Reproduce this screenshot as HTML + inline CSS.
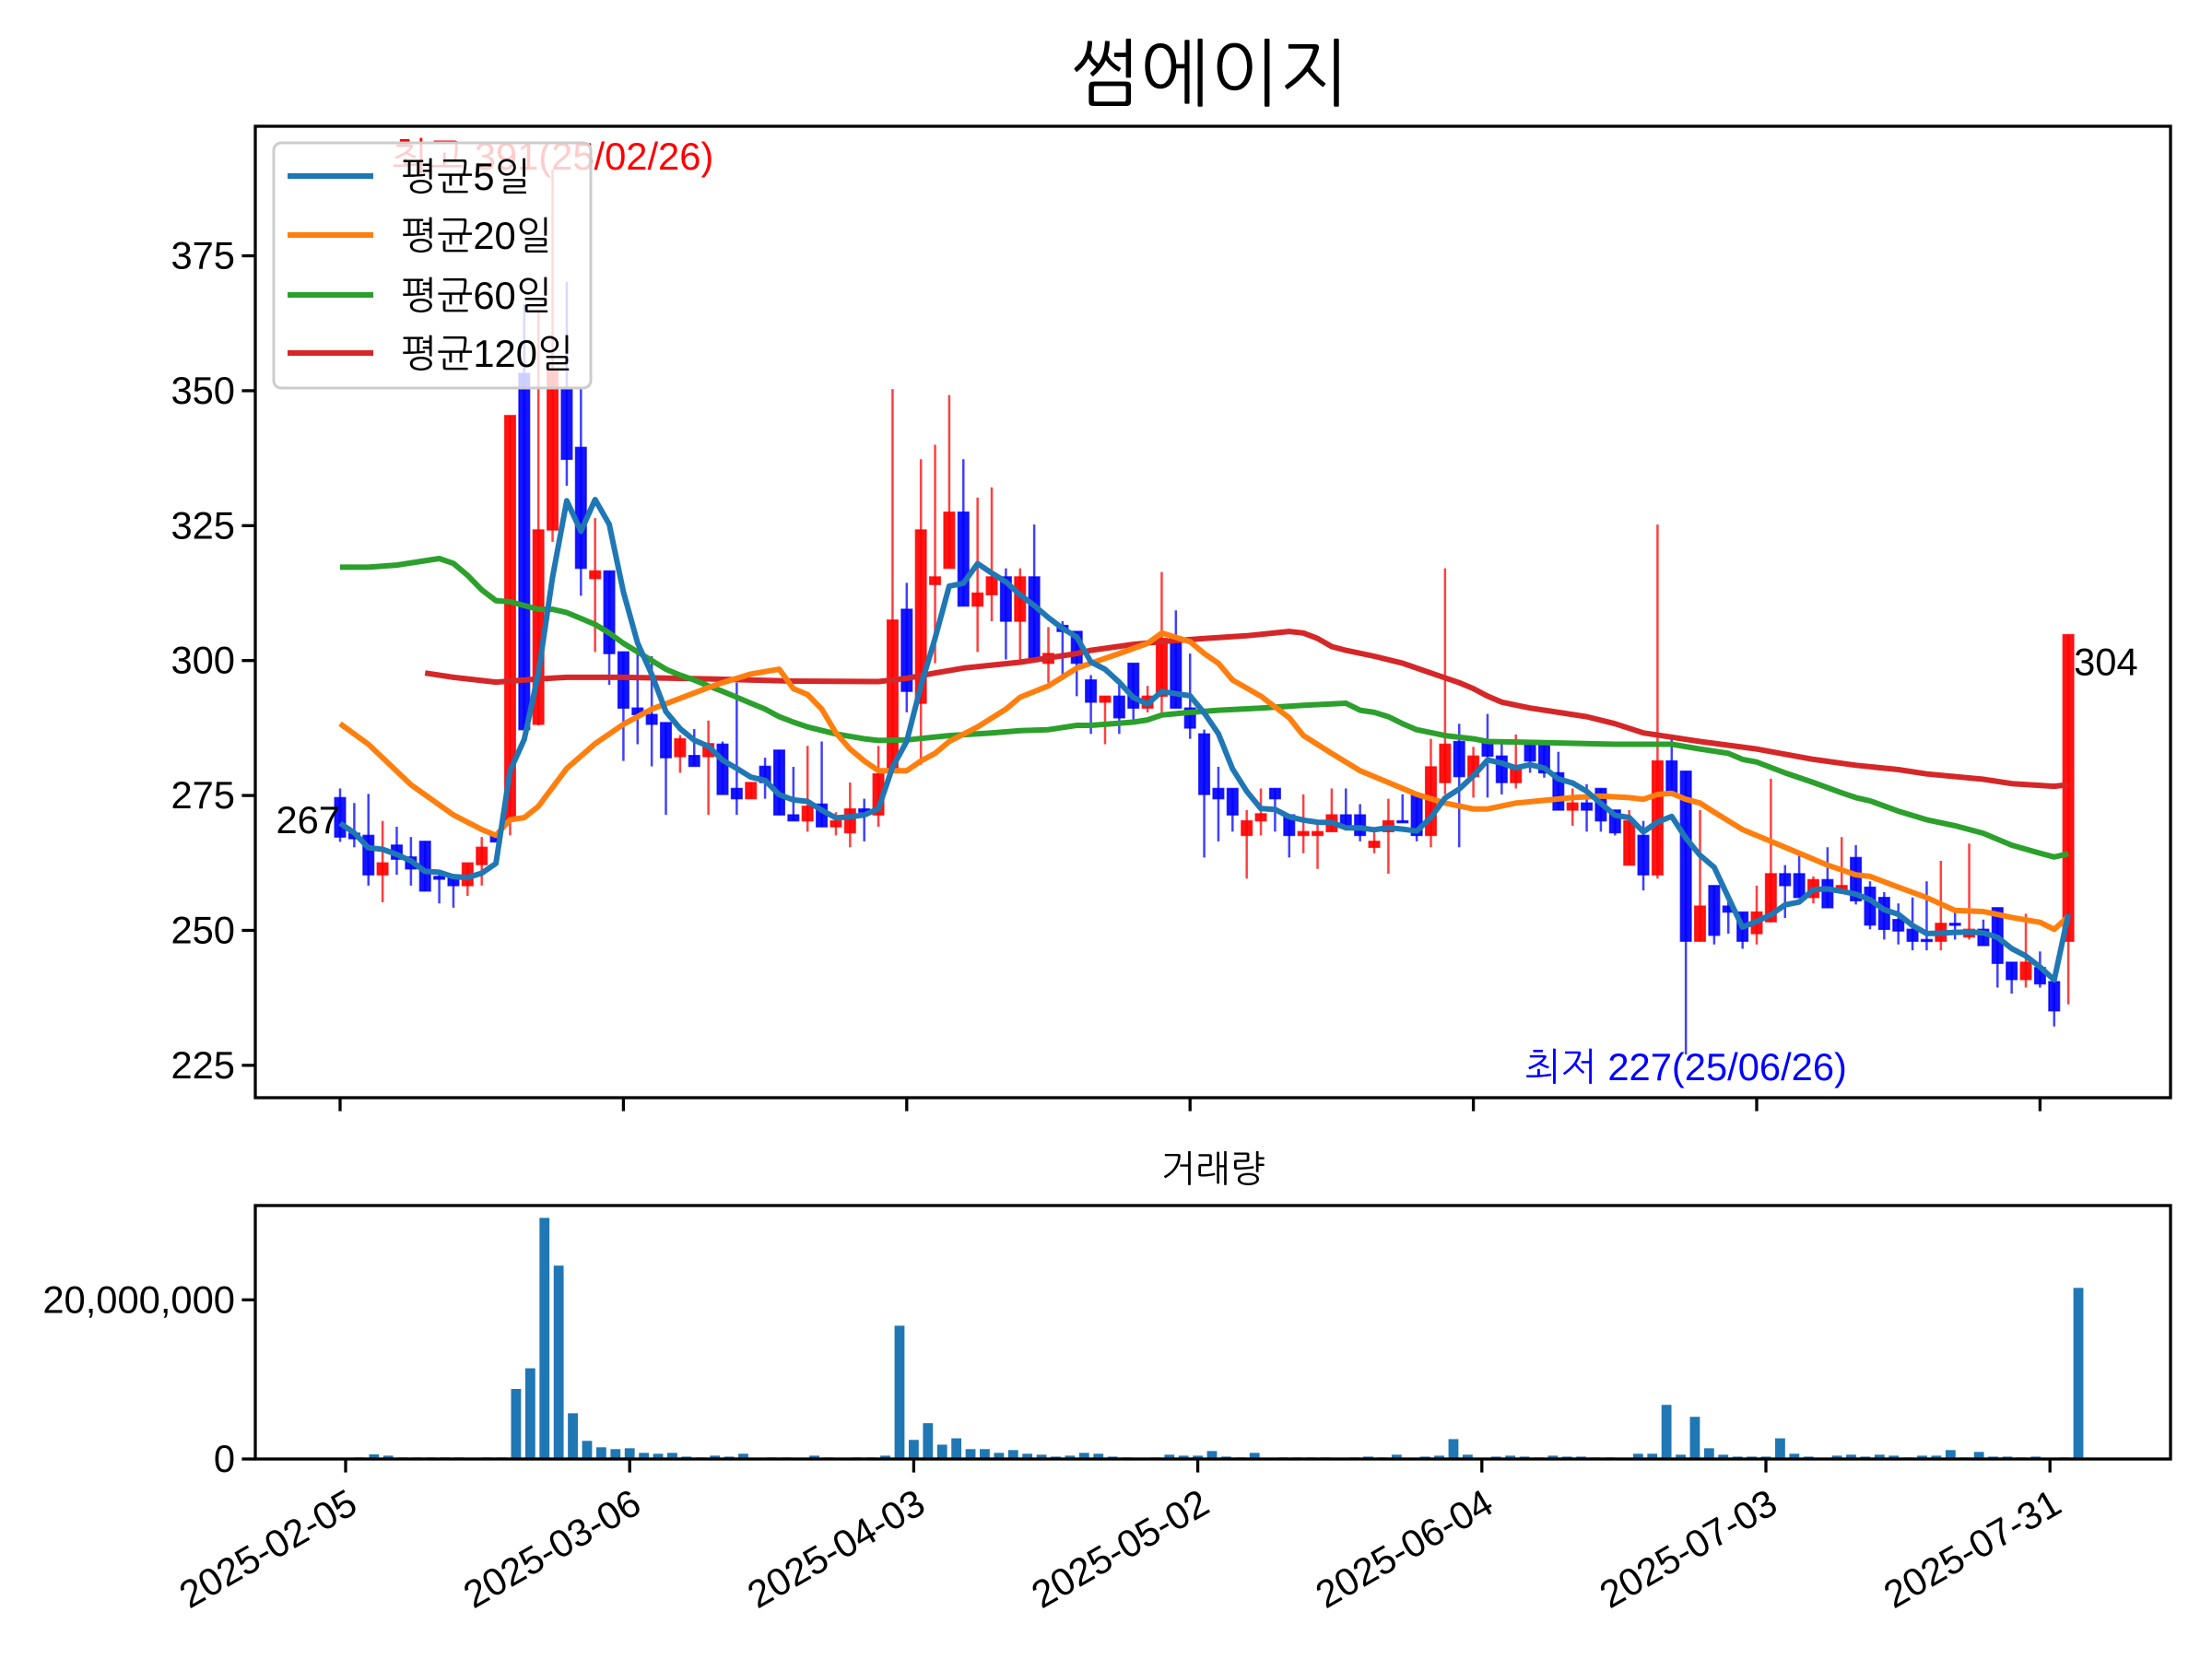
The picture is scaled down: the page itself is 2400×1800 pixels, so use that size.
<!DOCTYPE html>
<html><head><meta charset="utf-8"><title>썸에이지</title>
<style>
html,body{margin:0;padding:0;background:#fff;}
svg{display:block;font-family:"Liberation Sans","NanumGothic","Noto Sans CJK KR",sans-serif;}
</style></head>
<body>
<svg id="chart" xmlns="http://www.w3.org/2000/svg" width="2400" height="1800" viewBox="0 0 2400 1800">
<rect x="0" y="0" width="2400" height="1800" fill="#fff"/>
<text x="1313" y="108" font-size="80" text-anchor="middle" fill="#000" style="font-family:'Liberation Sans','NanumGothic','Noto Sans CJK KR',sans-serif">썸에이지</text>
<g id="price-panel"></g>
<g id="volume-panel"></g>
<text x="1316" y="1282" font-size="40" text-anchor="middle" fill="#000">거래량</text>
</svg>
<script>
const dateLabels = ["2025-02-05","2025-03-06","2025-04-03","2025-05-02","2025-06-04","2025-07-03","2025-07-31"];
const dateTickIdx = [0,20,40,60,80,100,120];
const priceTicks = [225,250,275,300,325,350,375];
const volTicks = [0,20000000];
const volTickLabels = ["0","20,000,000"];
const preCloses = [276,274,264,268];
const opens = [274.6,268,267.6,260.3,265.8,263.6,266.5,260,260.3,258.3,262.2,267.6,270.3,353.2,288.2,324.2,350.4,339.5,315.2,316.6,301.6,291.2,290,288.5,282.2,282.4,282.2,284.5,276.3,274.4,280.4,283.4,271.4,270.3,273.4,269.2,268.1,272.5,271.4,280.1,309.5,292.1,314.1,317.1,327.5,310.1,312.2,315.5,307.3,315.5,299.5,306.5,305.4,296.4,292.3,293.4,299.5,291.2,293.4,303.2,291.2,286.4,276.3,276.3,267.6,270.3,276.3,271.4,267.6,267.6,268.3,271.4,271.4,265.4,268.3,270.3,275.2,267.6,277.4,285,278.5,285,282.3,277.4,284.5,284.5,279.2,272.3,273.6,276.3,272.3,262.1,267.6,260.3,281.4,279.5,248,258.3,254.5,253.4,249.4,251.6,260.5,260.5,256.1,259.4,257.2,263.5,258,256.1,252,250.2,248.3,248,251.3,248.8,250.2,254.2,244.1,240.9,243.1,240.5,248];
const highs = [276.3,273.6,275.3,270.3,269.2,267.3,266.5,260.5,260.5,262.5,267.3,267.6,345.4,366,365,391,370.2,350.4,326.4,316.6,301.6,301.6,300.8,288.5,286.2,287.3,288.9,285,295.9,277.4,282,283.4,280.3,284.2,285,271.9,277.4,274.4,284.2,350.3,314.4,337.3,340,349.2,337.3,330.2,332.1,317.1,317.1,325.2,306.2,307.3,305.4,297.3,293.4,296,299.5,295.3,316.4,309.3,301.3,287.2,280.3,276.3,272.3,276.3,276.3,271.4,275.2,270.3,276.3,276.3,273.4,268.3,274.4,275.2,275.2,285.5,317.1,288.3,284,290.1,284.5,286.3,284.5,284.5,283.1,276.3,277.1,276.3,272.3,272.3,270.3,325.2,286.3,279.5,272.3,258.3,256.1,253.4,258.3,278.1,262.1,263.8,260,265.4,267.3,265.8,259.1,257.1,255,256.1,259.1,262.9,253.9,266.1,252,254.2,244.1,253.1,246.1,240.5,304.8];
const lows = [266.4,265.4,258.3,255.2,260.3,258.3,257.3,255,254.2,256.4,258.3,266.4,267.6,287.2,288,322,332.4,312,301.6,295.5,281.4,284.5,280.4,271.4,279.2,280.4,271.4,275.2,271.4,274.4,274.4,271.4,270.3,268.3,269.2,267.6,265.4,266.5,269.2,280.1,290.4,280.7,299.5,317.1,310.1,301.6,307.3,300.2,300.2,300.2,295.9,296.4,293.4,286.4,284.5,286.4,288.6,290.4,290.4,291.2,285.5,263.5,266.5,268.3,259.6,267.6,268.3,263.5,264.3,261.4,268.3,269.4,266.5,264.3,260.5,270,266.5,265.4,275.2,265.4,274.6,274.6,275.2,276.3,279.2,278.3,272.3,269.4,268.3,268.3,267.6,262.1,257.4,259.6,275.5,227,248,247.4,249.4,246.6,247.4,251.6,252.3,256.1,255,254.2,257.2,254.8,250.2,248.3,247.4,246.3,246.3,246.3,248.3,248.3,247.2,239.4,238.3,239.4,239.4,232.2,236.3];
const closes = [267.3,267,260.3,262.5,263.2,261.4,257.3,259.5,258.3,262.5,265.4,266.4,345.4,287.2,324.2,354,337.3,317.1,316.6,301.3,291.2,290,288.2,282,285.5,280.4,284.6,275.2,274.4,277.4,277.4,271.4,270.3,273,269.2,270.3,272.5,271.9,279,307.5,294.3,324.2,315.5,327.5,310.1,312.5,315.5,307.3,315.5,300.2,301.3,305.4,299.5,292.3,293.4,289.4,291.2,293.4,304.1,291.2,287.5,275.2,274.4,271.4,270.3,271.6,274.4,267.6,268.3,268.3,271.4,269.4,267.6,266.5,270.3,270,267.6,280.3,284.5,278.5,282.3,282.3,277.4,280.1,281.4,279.2,272.3,273.6,272.3,270.3,268.1,270.3,260.3,281.4,275.5,248,254.5,249.1,253.4,248,253.4,260.5,258.3,256.1,259.4,254.2,258.3,255.5,251,250.2,249.9,248,248,251.3,251,250.2,247.2,243.9,240.9,244.1,240.1,235.1,304.8];
const volumes = [0.05,0.2,0.58,0.42,0.2,0.2,0.2,0.2,0.2,0.05,0.2,0.2,8.8,11.4,30.3,24.3,5.75,2.28,1.47,1.24,1.35,0.77,0.66,0.77,0.3,0.2,0.42,0.3,0.66,0.05,0.2,0.2,0.05,0.42,0.2,0.05,0.2,0.2,0.42,16.75,2.4,4.5,1.8,2.6,1.24,1.24,0.77,1.12,0.66,0.54,0.3,0.42,0.77,0.66,0.3,0.2,0.05,0.2,0.54,0.42,0.42,1.0,0.3,0.2,0.77,0.05,0.2,0.2,0.2,0.2,0.05,0.2,0.3,0.2,0.54,0.05,0.3,0.42,2.5,0.54,0.05,0.3,0.42,0.3,0.2,0.42,0.3,0.3,0.2,0.2,0.05,0.66,0.66,6.8,0.54,5.3,1.35,0.54,0.3,0.3,0.3,2.6,0.66,0.3,0.05,0.42,0.54,0.3,0.54,0.42,0.2,0.42,0.42,1.12,0.2,0.89,0.3,0.3,0.2,0.3,0.05,0.2,21.5];
const ma20Idx = [0,2,5,8,10,11,12,13,14,16,18,20,22,24,26,27,29,31,32,33,34,35,36,37,38,40,41,42,43,45,47,48,50,52,53,55,57,58,60,61,62,63,65,67,68,70,72,74,76,78,80,81,83,85,87,89,91,92,93,94,95,96,97,99,101,103,105,107,108,110,112,114,116,118,120,121,122];
const ma20Val = [288.3,284.5,277,271.4,268.7,267.6,270.5,270.9,273,280,284.6,288.2,291,293,295,295.9,297.5,298.4,294.8,293.7,291,286.6,283.6,281.4,279.6,279.6,281.4,282.8,285,287.7,291,293.2,295.3,298.6,299.5,301.3,303.2,305.1,303.5,301.3,299.5,296.4,293.4,289.4,286.1,282.8,279.6,277.4,275.2,273.6,272.5,272.5,273.6,274.1,274.6,274.9,274.6,274.3,275.2,275.4,274.3,273.6,271.9,268.7,266.5,264.3,262.1,260.3,260,258,256.1,253.7,253.5,252.4,251.5,250.2,252.6];
const ma60Idx = [0,2,4,6,7,8,9,10,11,12,14,15,16,17,18,19,20,21,22,23,24,25,26,27,28,29,30,31,32,33,35,37,38,40,43,46,48,50,52,53,56,57,58,60,62,65,68,71,72,73,74,75,76,78,80,81,85,90,93,94,96,98,99,100,102,104,106,107,108,110,112,114,116,118,120,121,122];
const ma60Val = [317.3,317.3,317.7,318.5,318.9,318,315.8,313.1,311.1,310.9,309.5,309.5,308.9,307.8,306.7,305.1,303.2,301.6,300,298.4,297.3,296.4,295.3,294.3,293.2,292.1,291,289.6,288.6,287.7,286.4,285.5,285.2,285.3,286.1,286.6,287,287.2,288,288,288.6,289,289.9,290.4,290.8,291.2,291.7,292.1,290.8,290.4,289.6,288.3,287.2,286.1,285.5,285,284.8,284.5,284.5,284.5,283.6,282.8,281.7,281.2,279.2,277.4,275.5,274.6,274,272.1,270.5,269.4,268,265.8,264.3,263.6,264.2];
const ma120Idx = [6,8,11,14,16,20,26,32,38,40,42,44,48,52,53,56,58,61,64,67,68,69,70,71,73,75,77,79,80,81,82,84,86,88,90,92,94,96,100,104,107,110,112,116,118,121,122];
const ma120Val = [297.7,296.9,296,296.6,296.9,296.9,296.6,296.2,296.1,296.7,297.7,298.6,299.7,301.3,301.9,303,303.5,304.1,304.6,305.4,305.1,304.1,302.6,301.9,300.8,299.5,297.7,295.9,294.8,293.4,292.3,291.2,290.4,289.6,288.3,286.6,285.8,285,283.6,281.7,280.6,279.8,279,278,277.2,276.7,277];

const NS = "http://www.w3.org/2000/svg";
const P = {L:277, R:2355, T:137, B:1191, ymin:219, ymax:399};
const V = {L:277, R:2355, T:1308, B:1583, ymax:31.85};
function px(i){ return 369 + 15.37*i; }
function py(v){ return P.B - (v-P.ymin)/(P.ymax-P.ymin)*(P.B-P.T); }
function vx(i){ return 375 + 15.41*i; }
function vy(m){ return V.B - m/V.ymax*(V.B-V.T); }
function mk(tag, attrs, parent){
  const e = document.createElementNS(NS, tag);
  for (const k in attrs) e.setAttribute(k, attrs[k]);
  parent.appendChild(e);
  return e;
}
const pg = document.getElementById('price-panel');
const vg = document.getElementById('volume-panel');
const FS = 41.7;

for (let i=0;i<closes.length;i++){
  const up = closes[i] >= opens[i];
  const col = up ? '#ff0000' : '#0000ff';
  const w = mk('line', {x1:px(i), x2:px(i), y1:py(highs[i]), y2:py(lows[i]), stroke:col, 'stroke-width':2.5, 'stroke-opacity':0.75}, pg);
  
  
  const top = py(Math.max(opens[i],closes[i]));
  const bot = py(Math.min(opens[i],closes[i]));
  const b = mk('rect', {x:px(i)-5.8, y:top, width:11.6, height:Math.max(bot-top,2), fill:col, 'fill-opacity':0.92, stroke:col, 'stroke-width':1.5, 'stroke-opacity':0.75}, pg);
  
  
}
function linePath(idx, vals){
  let d='';
  for (let k=0;k<idx.length;k++) d += (k?'L':'M') + px(idx[k]).toFixed(1) + ',' + py(vals[k]).toFixed(1);
  return d;
}
const ma5Idx = [], ma5Val = [];
const allC = preCloses.concat(closes);
for (let i=0;i<closes.length;i++){
  let s=0; for (let k=0;k<5;k++) s += allC[i+k];
  ma5Idx.push(i); ma5Val.push(s/5);
}
const maDefs = [[ma120Idx,ma120Val,'#d62728','ma120-line'],[ma60Idx,ma60Val,'#2ca02c','ma60-line'],[ma20Idx,ma20Val,'#ff7f0e','ma20-line'],[ma5Idx,ma5Val,'#1f77b4','ma5-line']];
for (const m of maDefs){
  const p = mk('path', {d:linePath(m[0],m[1]), fill:'none', stroke:m[2], 'stroke-width':6, 'stroke-linejoin':'round'}, pg);
  
  
}
const pf = mk('rect', {x:P.L, y:P.T, width:P.R-P.L, height:P.B-P.T, fill:'none', stroke:'#000', 'stroke-width':3.3}, pg);


for (const t of priceTicks){
  const y = py(t);
  const tl = mk('line', {x1:P.L-14.6, x2:P.L, y1:y, y2:y, stroke:'#000', 'stroke-width':3.3}, pg);
  
  
  const tx = mk('text', {x:P.L-22, y:y+14, 'font-size':FS, 'text-anchor':'end', fill:'#000'}, pg);
  tx.textContent = t;
  
  
}
for (const i of dateTickIdx){
  const tl = mk('line', {x1:px(i), x2:px(i), y1:P.B, y2:P.B+14.6, stroke:'#000', 'stroke-width':3.3}, pg);
  
  
}
let hiI=0, loI=0;
for (let i=0;i<highs.length;i++){ if(highs[i]>highs[hiI]) hiI=i; if(lows[i]<lows[loI]) loI=i; }
const hiT = mk('text', {x:px(hiI), y:py(highs[hiI]), 'font-size':FS, 'text-anchor':'middle', fill:'#ff0000'}, pg);
hiT.textContent = '최고 ' + Math.round(highs[hiI]) + '(25/02/26)';


const loT = mk('text', {x:px(loI), y:py(lows[loI])+28, 'font-size':FS, 'text-anchor':'middle', fill:'#0000ff'}, pg);
loT.textContent = '최저 ' + Math.round(lows[loI]) + '(25/06/26)';


const fT = mk('text', {x:px(0), y:py(closes[0])-4, 'font-size':FS, 'text-anchor':'end', fill:'#000'}, pg);
fT.textContent = Math.round(closes[0]);


const last = closes.length-1;
const lT = mk('text', {x:px(last)+6, y:py(closes[last])+44, 'font-size':FS, 'text-anchor':'start', fill:'#000'}, pg);
lT.textContent = Math.floor(closes[last]);


const lg = mk('g', {}, pg);


const lr = mk('rect', {x:297, y:155, width:344, height:266, rx:8, fill:'#fff', 'fill-opacity':0.8, stroke:'#cccccc', 'stroke-width':3}, lg);


const legNames = ['평균5일','평균20일','평균60일','평균120일'];
const legCols = ['#1f77b4','#ff7f0e','#2ca02c','#d62728'];
const legY = [191,255,320,383];
for (let k=0;k<4;k++){
  const ll = mk('line', {x1:312, x2:405, y1:legY[k], y2:legY[k], stroke:legCols[k], 'stroke-width':6}, lg);
  
  
  const lt = mk('text', {x:435, y:legY[k]+15, 'font-size':FS, fill:'#000'}, lg);
  lt.textContent = legNames[k];
  
  
}
for (let i=0;i<volumes.length;i++){
  const y = vy(volumes[i]);
  const r = mk('rect', {x:vx(i)-5.4, y:y, width:10.8, height:V.B-y, fill:'#1f77b4'}, vg);
  
  
}
const vf = mk('rect', {x:V.L, y:V.T, width:V.R-V.L, height:V.B-V.T, fill:'none', stroke:'#000', 'stroke-width':3.3}, vg);


for (let k=0;k<volTicks.length;k++){
  const y = vy(volTicks[k]/1e6);
  const tl = mk('line', {x1:V.L-14.6, x2:V.L, y1:y, y2:y, stroke:'#000', 'stroke-width':3.3}, vg);
  
  
  const tx = mk('text', {x:V.L-22, y:y+14, 'font-size':FS, 'text-anchor':'end', fill:'#000'}, vg);
  tx.textContent = volTickLabels[k];
  
  
}
for (let k=0;k<dateTickIdx.length;k++){
  const x = vx(dateTickIdx[k]);
  const tl = mk('line', {x1:x, x2:x, y1:V.B, y2:V.B+14.6, stroke:'#000', 'stroke-width':3.3}, vg);
  
  
  const ty = V.B + 30;
  const tx = mk('text', {x:x, y:ty, 'font-size':FS, 'text-anchor':'end', 'dominant-baseline':'hanging', fill:'#000', transform:'rotate(-30 '+x+' '+ty+')'}, vg);
  tx.textContent = dateLabels[k];
  
  
}
</script>
</body></html>
